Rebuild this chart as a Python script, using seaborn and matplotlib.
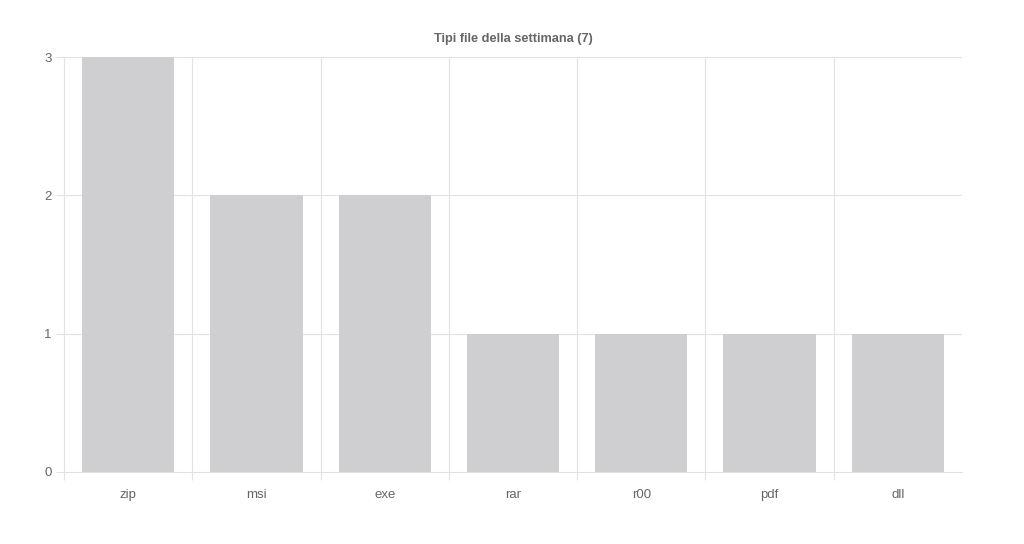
import matplotlib
matplotlib.use("Agg")
import matplotlib.pyplot as plt
import seaborn as sns
import pandas as pd
import numpy as np
from matplotlib.ticker import FixedLocator

categories = ["zip", "msi", "exe", "rar", "r00", "pdf", "dll"]
values = [3, 2, 2, 1, 1, 1, 1]
title = "Tipi file della settimana (7)"

sns.set_theme(style="white")
plt.rcParams['font.family'] = ['Liberation Sans', 'DejaVu Sans']

df = pd.DataFrame({"cat": categories, "val": values})

fig = plt.figure(figsize=(10.24, 5.44), dpi=100)
ax = fig.add_axes([64/1024, 1 - 472/544, (962 - 64)/1024, (472 - 57)/544])

sns.barplot(data=df, x="cat", y="val", color="#cfcfd1", width=0.72,
            saturation=1, linewidth=0, edgecolor="none", ax=ax, zorder=2)

grid_c = "#e2e2e2"
ax.set_xlim(-0.5, len(categories) - 0.5)
ax.set_ylim(0, 3)
ax.set_yticks([0, 1, 2, 3])
ax.set_yticklabels(["0", "1", "2", "3"])
ax.xaxis.set_minor_locator(FixedLocator(np.arange(-0.5, len(categories) - 0.5, 1.0)))
ax.tick_params(axis="x", which="major", bottom=False, length=0, pad=12,
               labelsize=9.5, labelcolor="#666666")
ax.tick_params(axis="x", which="minor", bottom=True, length=6, width=0.8, color=grid_c)
ax.tick_params(axis="y", which="major", left=True, length=6, width=0.8, color=grid_c, pad=3,
               labelsize=9.5, labelcolor="#666666")

for x in np.arange(0.5, len(categories) - 1, 1.0):
    ax.axvline(x, color=grid_c, lw=0.8, zorder=1)
for y in [1, 2, 3]:
    ax.axhline(y, color=grid_c, lw=0.8, zorder=1)

for s in ["top", "right"]:
    ax.spines[s].set_visible(False)
ax.spines["left"].set_color(grid_c)
ax.spines["bottom"].set_color(grid_c)
ax.spines["left"].set_linewidth(0.8)
ax.spines["bottom"].set_linewidth(0.8)

ax.set_xlabel("")
ax.set_ylabel("")
ax.set_title(title, fontsize=9.2, fontweight="bold", color="#666666", pad=11)

fig.savefig("out.png", dpi=100, facecolor="white")
